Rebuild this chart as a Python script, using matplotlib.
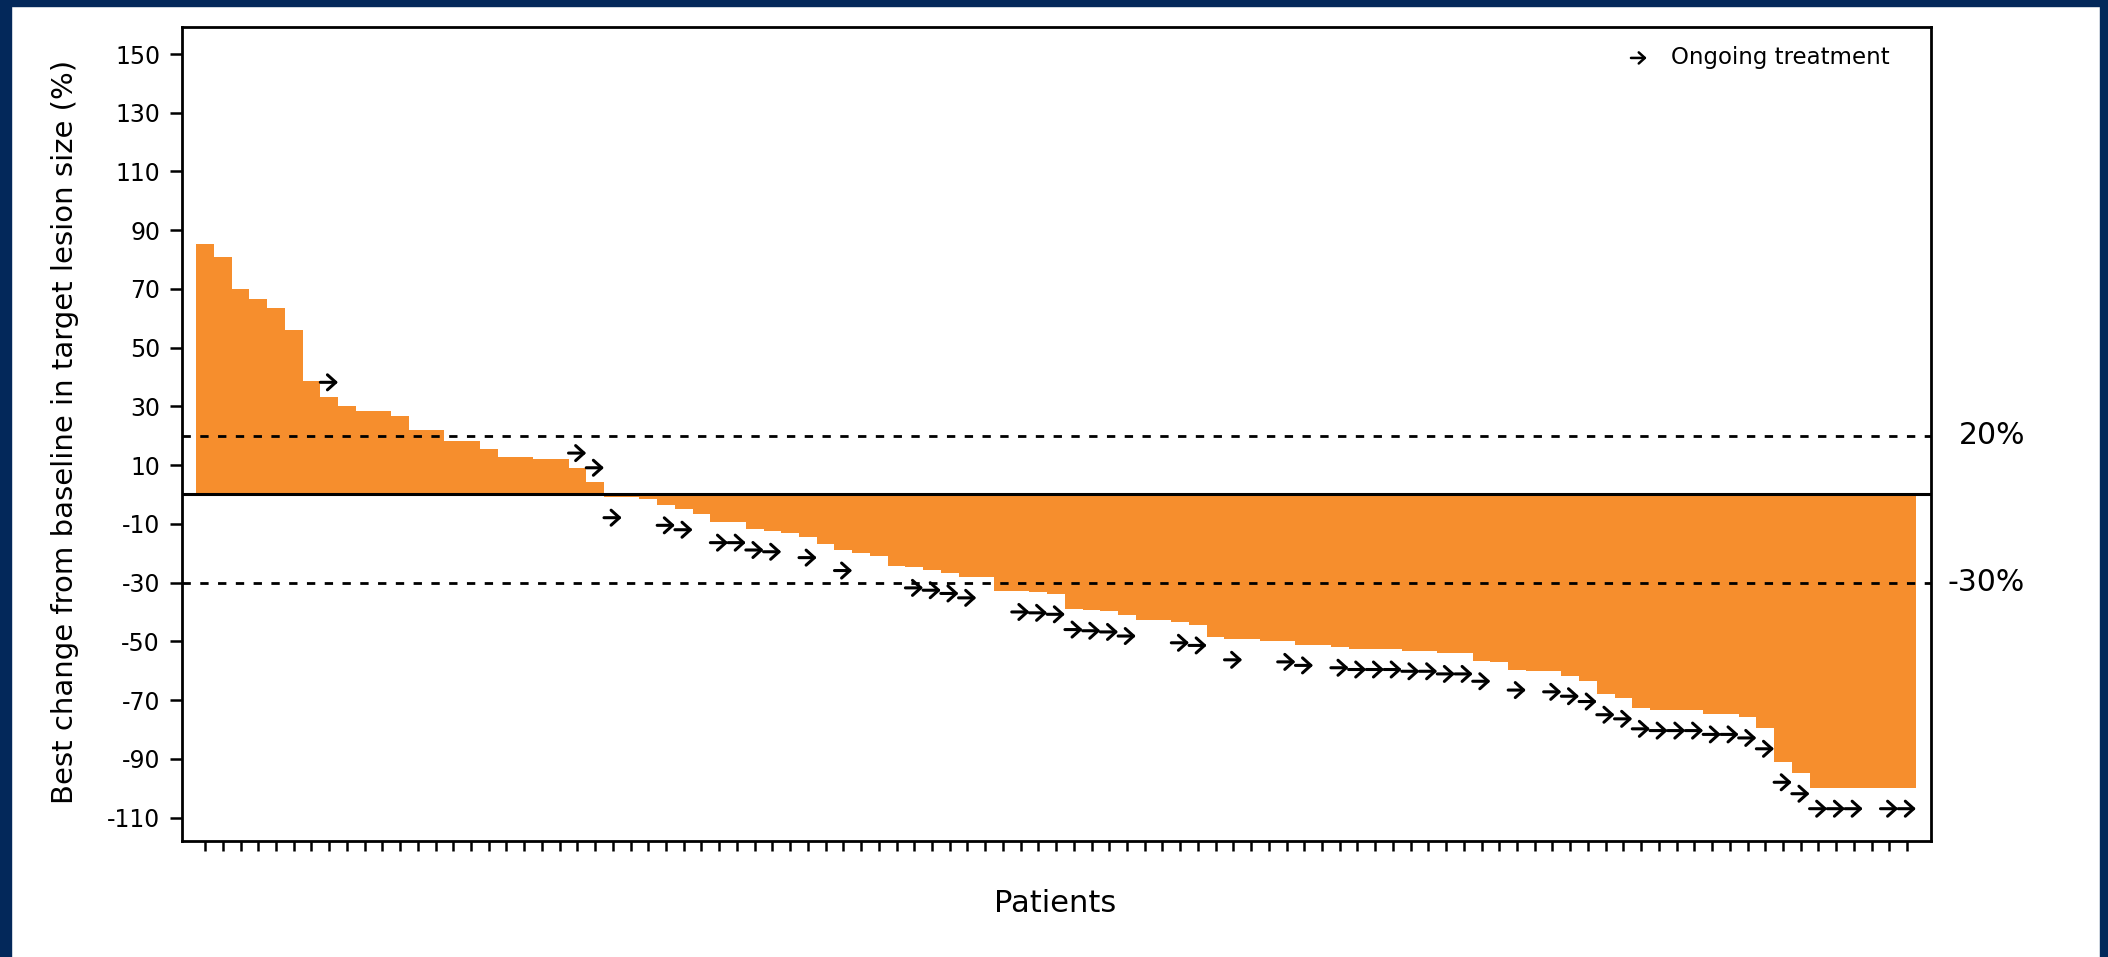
import matplotlib
matplotlib.use("Agg")
import matplotlib.pyplot as plt
import matplotlib.transforms as mtransforms
from matplotlib.patches import Rectangle

plt.rcParams['font.family'] = ['DejaVu Sans']
plt.rcParams['axes.unicode_minus'] = False

# ---------------- data ----------------
best_change = [85.2, 80.9, 70.1, 66.7, 63.6, 55.9, 38.6, 33.2, 30.2, 28.3,
               28.3, 26.8, 22.0, 22.0, 18.1, 18.1, 15.5, 12.6, 12.6, 12.2,
               12.2, 9.1, 4.1, -0.9, -1.0, -1.6, -3.5, -5.0, -6.6, -9.4,
               -9.4, -11.9, -12.5, -13.1, -14.5, -16.8, -18.9, -19.8, -20.9, -24.3,
               -24.8, -25.6, -26.7, -28.2, -28.2, -32.9, -33.0, -33.3, -33.8, -39.0,
               -39.4, -39.8, -41.2, -42.9, -42.9, -43.5, -44.4, -48.6, -49.3, -49.3,
               -50.0, -50.0, -51.2, -51.2, -52.0, -52.6, -52.6, -52.6, -53.2, -53.2,
               -54.1, -54.1, -56.6, -57.0, -59.6, -60.2, -60.2, -61.7, -63.5, -68.0,
               -69.4, -72.8, -73.4, -73.4, -73.4, -74.7, -74.7, -75.9, -79.6, -91.0,
               -94.9, -100, -100, -100, -100, -100, -100]

ongoing_idx = [7, 21, 22, 23, 26, 27, 29, 30, 31, 32, 34, 36, 40, 41, 42, 43,
               46, 47, 48, 49, 50, 51, 52, 55, 56, 58, 61, 62, 64, 65, 66, 67,
               68, 69, 70, 71, 72, 74, 76, 77, 78, 79, 80, 81, 82, 83, 84, 85,
               86, 87, 88, 89, 90, 91, 92, 93, 95, 96]

y_ticks = [150, 130, 110, 90, 70, 50, 30, 10, -10, -30, -50, -70, -90, -110]
y_tick_labels = ["150", "130", "110", "90", "70", "50", "30", "10", "-10",
                 "-30", "-50", "-70", "-90", "-110"]
thresholds = [20, -30]
threshold_labels = ["20%", "-30%"]
ylabel = "Best change from baseline in target lesion size (%)"
xlabel = "Patients"
legend_label = "Ongoing treatment"

# ---------------- style ----------------
W, H = 2108, 957
BAR_COLOR = "#F68E2D"
NAVY = "#03285A"

fig = plt.figure(figsize=(W / 100, H / 100), dpi=100)
fig.patch.set_facecolor("white")

# navy frame strips
fig.add_artist(Rectangle((0, 0), 11 / W, 1, transform=fig.transFigure, color=NAVY, zorder=0))
fig.add_artist(Rectangle((0, 1 - 6 / H), 1, 6 / H, transform=fig.transFigure, color=NAVY, zorder=0))
fig.add_artist(Rectangle((1 - 8 / W, 0), 8 / W, 1, transform=fig.transFigure, color=NAVY, zorder=0))

ax_l, ax_r, ax_t, ax_b = 181.5, 1931, 27, 841
ax = fig.add_axes([ax_l / W, 1 - ax_b / H, (ax_r - ax_l) / W, (ax_b - ax_t) / H])

x = list(range(len(best_change)))
ax.bar(x, best_change, width=1.0, color=BAR_COLOR, edgecolor="none", zorder=1)

ax.set_xlim(-1.33, len(best_change) - 1 + 1.35)
ax.set_ylim(-118, 159.2)

# reference lines
ax.axhline(0, color="black", lw=2.2, zorder=3)
for t in thresholds:
    ax.axhline(t, color="black", lw=2.0, dashes=(3.0, 3.4), zorder=3)

trans = mtransforms.blended_transform_factory(ax.transAxes, ax.transData)
for t, lab in zip(thresholds, threshold_labels):
    ax.text((2025 - ax_l) / (ax_r - ax_l), t, lab, transform=trans, ha="right",
            va="center", fontsize=21.5, color="black", clip_on=False)

# ongoing-treatment arrows
for i in ongoing_idx:
    v = best_change[i]
    yy = v + 5 if v > 0 else v - 7
    ax.annotate("", xy=(i + 0.5, yy), xytext=(i - 0.5, yy),
                arrowprops=dict(arrowstyle="->,head_length=0.3,head_width=0.27",
                                lw=2.2, color="black", shrinkA=0, shrinkB=0,
                                mutation_scale=20), zorder=4)

# legend (manual)
ax.annotate("", xy=(0.8375, 0.962), xytext=(0.8285, 0.962), xycoords="axes fraction",
            textcoords="axes fraction",
            arrowprops=dict(arrowstyle="->,head_length=0.22,head_width=0.2",
                            lw=1.8, color="black", shrinkA=0, shrinkB=0,
                            mutation_scale=20))
ax.text(0.8514, 0.962, legend_label, transform=ax.transAxes, ha="left", va="center",
        fontsize=16.5, color="black")

# axes / ticks
ax.set_yticks(y_ticks)
ax.set_yticklabels(y_tick_labels, fontsize=17)
ax.set_xticks(x)
ax.set_xticklabels([])
ax.tick_params(axis="y", direction="out", length=8.4, width=1.8, pad=7, colors="black")
ax.tick_params(axis="x", direction="out", length=7.2, width=1.8, pad=2, colors="black")
for s in ax.spines.values():
    s.set_linewidth(2.0)
    s.set_color("black")

fig.text((1055) / W, 1 - 904 / H, xlabel, ha="center", va="center", fontsize=22)
fig.text(65 / W, 1 - 432 / H, ylabel, ha="center", va="center", rotation=90, fontsize=21)

fig.savefig("out.png", dpi=100, facecolor=fig.get_facecolor())
